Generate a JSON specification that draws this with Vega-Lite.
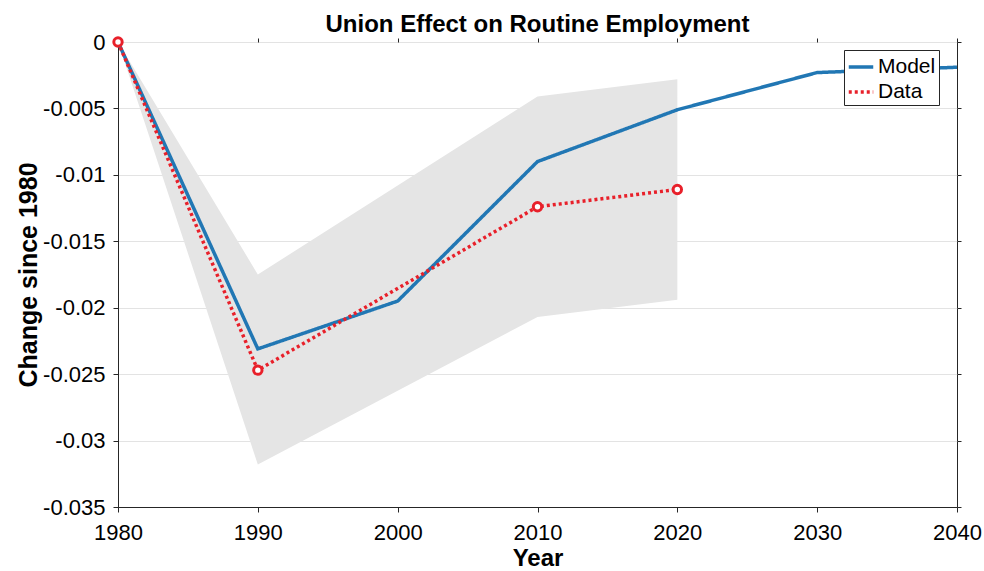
{
  "$schema": "https://vega.github.io/schema/vega-lite/v6.json",
  "autosize": {"type": "none"},
  "padding": {"left": 118, "top": 42, "right": 27, "bottom": 64},
  "width": 839,
  "height": 465,
  "background": "white",
  "config": {
    "font": "Liberation Sans",
    "view": {"stroke": "#262626", "strokeWidth": 1}
  },
  "title": {
    "text": "Union Effect on Routine Employment",
    "fontSize": 24,
    "fontWeight": "bold",
    "color": "black",
    "anchor": "middle",
    "offset": -6
  },
  "resolve": {"axis": {"x": "independent", "y": "independent"}},
  "datasets": {
    "band": [
      {"year": 1980, "lo": 0, "hi": 0},
      {"year": 1990, "lo": -0.0318, "hi": -0.0175},
      {"year": 2010, "lo": -0.0207, "hi": -0.0041},
      {"year": 2020, "lo": -0.0194, "hi": -0.0028}
    ],
    "lines": [
      {"year": 1980, "series": "Model", "value": 0},
      {"year": 1990, "series": "Model", "value": -0.0231},
      {"year": 2000, "series": "Model", "value": -0.0195},
      {"year": 2010, "series": "Model", "value": -0.009},
      {"year": 2020, "series": "Model", "value": -0.0051},
      {"year": 2030, "series": "Model", "value": -0.0023},
      {"year": 2040, "series": "Model", "value": -0.0019},
      {"year": 1980, "series": "Data", "value": 0},
      {"year": 1990, "series": "Data", "value": -0.0247},
      {"year": 2010, "series": "Data", "value": -0.0124},
      {"year": 2020, "series": "Data", "value": -0.0111}
    ]
  },
  "layer": [
    {
      "data": {"name": "band"},
      "mark": {"type": "area", "color": "#e5e5e5", "opacity": 1},
      "encoding": {
        "x": {
          "field": "year",
          "type": "quantitative",
          "scale": {"domain": [1980, 2040], "nice": false, "zero": false},
          "axis": {
            "title": "Year",
            "values": [1980, 1990, 2000, 2010, 2020, 2030, 2040],
            "format": "d",
            "grid": false,
            "labelFlush": false,
            "labelFontSize": 22,
            "labelColor": "black",
            "labelPadding": 10,
            "titleFontSize": 24,
            "titleFontWeight": "bold",
            "titleColor": "black",
            "titlePadding": 3,
            "domainColor": "#262626",
            "tickColor": "#262626",
            "tickSize": 5
          }
        },
        "y": {
          "field": "lo",
          "type": "quantitative",
          "scale": {"domain": [-0.035, 0], "nice": false},
          "axis": {
            "title": "Change since 1980",
            "values": [0, -0.005, -0.01, -0.015, -0.02, -0.025, -0.03, -0.035],
            "labelExpr": "'' + datum.value",
            "grid": true,
            "gridColor": "#e3e3e3",
            "labelFontSize": 22,
            "labelColor": "black",
            "labelPadding": 8,
            "labelFlush": false,
            "titleFontSize": 25,
            "titleFontWeight": "bold",
            "titleColor": "black",
            "titlePadding": 1,
            "domainColor": "#262626",
            "tickColor": "#262626",
            "tickSize": 5
          }
        },
        "y2": {"field": "hi"}
      }
    },
    {
      "data": {"name": "lines"},
      "mark": {"type": "line", "strokeWidth": 3.5, "strokeCap": "butt"},
      "encoding": {
        "x": {"field": "year", "type": "quantitative", "axis": null},
        "y": {"field": "value", "type": "quantitative", "axis": null},
        "color": {
          "field": "series",
          "type": "nominal",
          "scale": {"domain": ["Model", "Data"], "range": ["#2177b4", "#e8202a"]},
          "legend": {
            "title": null,
            "orient": "none",
            "legendX": 726,
            "legendY": 8,
            "fillColor": "white",
            "strokeColor": "#262626",
            "padding": 3,
            "labelFontSize": 21,
            "labelColor": "black",
            "labelOffset": 3,
            "symbolType": "stroke",
            "symbolStrokeWidth": 3.5,
            "symbolSize": 600,
            "rowPadding": 1
          }
        },
        "strokeDash": {
          "field": "series",
          "type": "nominal",
          "scale": {"domain": ["Model", "Data"], "range": [[1, 0], [3, 3]]},
          "legend": null
        },
        "order": {"field": "year", "type": "quantitative"}
      }
    },
    {
      "data": {"name": "lines"},
      "transform": [{"filter": "datum.series == 'Data'"}],
      "mark": {"type": "point", "shape": "circle", "filled": false, "fill": "white", "stroke": "#e8202a", "strokeWidth": 3, "size": 70, "opacity": 1},
      "encoding": {
        "x": {"field": "year", "type": "quantitative", "axis": null},
        "y": {"field": "value", "type": "quantitative", "axis": null}
      }
    },
    {
      "data": {"name": "lines"},
      "mark": {"type": "point", "opacity": 0},
      "encoding": {
        "x": {
          "field": "year",
          "type": "quantitative",
          "axis": {"orient": "top", "title": null, "labels": false, "grid": false, "domain": false, "values": [1980, 1990, 2000, 2010, 2020, 2030, 2040], "tickColor": "#262626", "tickSize": 4}
        },
        "y": {
          "field": "value",
          "type": "quantitative",
          "axis": {"orient": "right", "title": null, "labels": false, "grid": false, "domain": false, "values": [0, -0.005, -0.01, -0.015, -0.02, -0.025, -0.03, -0.035], "tickColor": "#262626", "tickSize": 4}
        }
      }
    }
  ]
}
